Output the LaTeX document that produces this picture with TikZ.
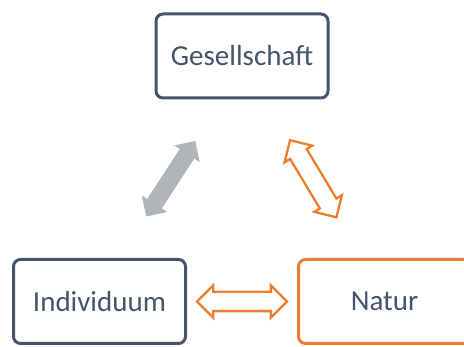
\documentclass[tikz,border=0pt]{standalone}
\usepackage{fontspec}
\setmainfont{Carlito}
\usetikzlibrary{shapes.arrows,calc}
\definecolor{slate}{HTML}{44546A}
\definecolor{orng}{HTML}{ED7D31}
\definecolor{greyarrow}{HTML}{B1B4B9}

\begin{document}
\begin{tikzpicture}[x=1pt, y=-1pt,
    box/.style={draw=slate, line width=3pt, rounded corners=7pt, minimum width=172pt,
      minimum height=84pt, text=slate, font=\fontsize{29}{34}\selectfont},
    link/.style={double arrow, double arrow head extend=6.5pt, minimum height=90pt,
      inner xsep=0pt, inner ysep=8.5pt}]
    \clip (0,0) rectangle (464,347);
    \node[box] (ges) at (242,56) {Gesellschaft};
    \node[box] (ind) at (99.5,301.5) {Individuum};
    \node[box, draw=orng] (nat) at (384.5,301.5) {Natur};

    \node[link, fill=greyarrow, rotate=57] (gi) at ($(ges)!0.5!(ind)$) {};
    \node[link, draw=orng, fill=white, line width=2.3pt, rotate=-59] (gn) at ($(ges)!0.5!(nat)$) {};
    \node[link, draw=orng, fill=white, line width=2.3pt] (in) at ($(ind)!0.5!(nat)$) {};
\end{tikzpicture}
\end{document}
